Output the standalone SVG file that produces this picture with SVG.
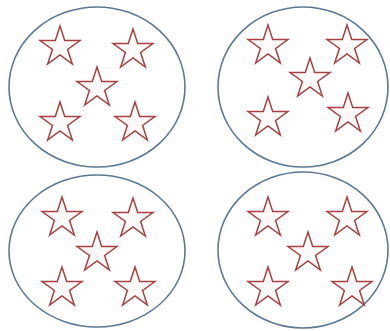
<svg xmlns="http://www.w3.org/2000/svg" xmlns:xlink="http://www.w3.org/1999/xlink" width="390" height="331" viewBox="0 0 390 331">
<style>
.set{fill:#ffffff;stroke:#5b7896;stroke-width:1.6}
.star{fill:#fffafa;stroke:#a8403f;stroke-width:1.5;stroke-linejoin:miter}
</style>
<defs>
<path id="st" class="star" d="M0,-21 L4.7,-6.47 L19.97,-6.49 L7.61,2.47 L12.34,16.99 L0,8 L-12.34,16.99 L-7.61,2.47 L-19.97,-6.49 L-4.7,-6.47 Z"/>
</defs>
<rect width="390" height="331" fill="#ffffff"/>
<g id="set1">
<ellipse class="set" cx="97" cy="87" rx="88" ry="80"/>
<use xlink:href="#st" x="60" y="47"/>
<use xlink:href="#st" x="133" y="50"/>
<use xlink:href="#st" x="97" y="88"/>
<use xlink:href="#st" x="60" y="123"/>
<use xlink:href="#st" x="135" y="123"/>
</g>
<g id="set2">
<ellipse class="set" cx="303" cy="87" rx="85" ry="80"/>
<use xlink:href="#st" x="268" y="46"/>
<use xlink:href="#st" x="347" y="46"/>
<use xlink:href="#st" x="310" y="79"/>
<use xlink:href="#st" x="268" y="118"/>
<use xlink:href="#st" x="348" y="114"/>
</g>
<g id="set3">
<ellipse class="set" cx="97" cy="251" rx="88" ry="76"/>
<use xlink:href="#st" x="62" y="218"/>
<use xlink:href="#st" x="133" y="219"/>
<use xlink:href="#st" x="97" y="253"/>
<use xlink:href="#st" x="62" y="288"/>
<use xlink:href="#st" x="135" y="288"/>
</g>
<g id="set4">
<ellipse class="set" cx="303" cy="250" rx="85" ry="78"/>
<use xlink:href="#st" x="268" y="218"/>
<use xlink:href="#st" x="347" y="218"/>
<use xlink:href="#st" x="308" y="253"/>
<use xlink:href="#st" x="268" y="288"/>
<use xlink:href="#st" x="352" y="288"/>
</g>
<g id="connectors"/>
</svg>
